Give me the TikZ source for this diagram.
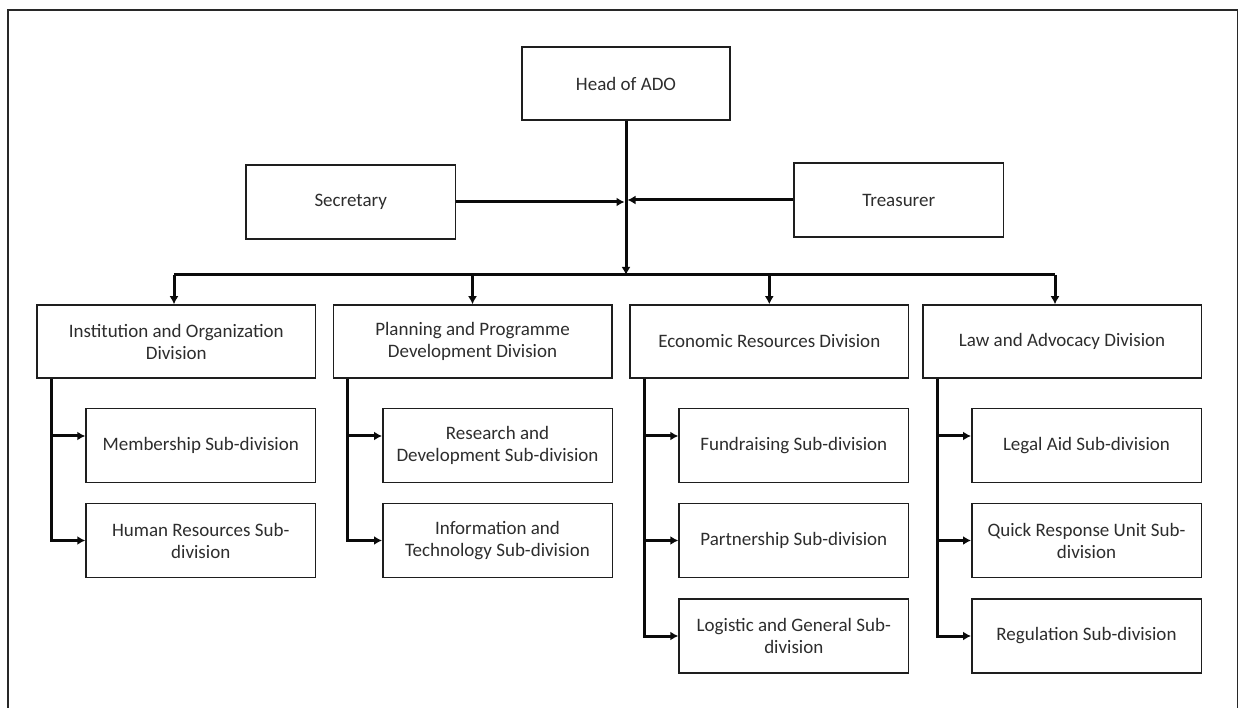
\documentclass[tikz,border=0pt]{standalone}
\usepackage{fontspec}
\setmainfont{Carlito}
\usetikzlibrary{arrows.meta,calc}
\definecolor{boxc}{RGB}{30,30,30}
\definecolor{txt}{RGB}{45,45,45}
\definecolor{linec}{RGB}{10,10,10}
\definecolor{framec}{RGB}{40,40,40}
\begin{document}
\begin{tikzpicture}[x=1pt,y=-1pt,
  box/.style={draw=boxc, line width=1.5pt, minimum height=74pt, align=center, text=txt,
    font=\fontsize{19}{22}\selectfont, inner sep=0pt},
  divbox/.style={box, minimum width=278.5pt},
  subbox/.style={box, minimum width=229.5pt},
  topbox/.style={box, minimum width=208pt},
  conn/.style={line width=3pt, draw=linec},
  arr/.style={conn, -{Latex[length=8pt,width=9pt]}}]
\useasboundingbox (0,0) rectangle (1240,708);
% frame
\draw[framec, line width=1.5pt] (8,708) -- (8,10) -- (1237.5,10) -- (1237.5,708);

% top
\node[topbox, minimum height=73pt] (head) at (626,83.5) {Head of ADO};
\node[topbox, minimum width=209.5pt] (sec) at (350.75,202) {Secretary};
\node[topbox, minimum width=209.5pt] (tre) at (898.75,200) {Treasurer};

% divisions
\node[divbox, minimum height=73pt] (d1) at (176.25,341.5) {Institution and Organization\\Division};
\node[divbox, minimum height=73pt] (d2) at (472.5,341.5) {Planning and Programme\\Development Division};
\node[divbox, minimum height=73pt] (d3) at (769.3,341.5) {Economic Resources Division};
\node[divbox, minimum height=73pt] (d4) at (1062,341.5) {Law and Advocacy Division};

% sub-divisions
\node[subbox] (s11) at (200.75,445.5) {Membership Sub-division};
\node[subbox] (s12) at (200.75,540.5) {Human Resources Sub-\\division};
\node[subbox] (s21) at (497.5,445.5) {Research and\\Development Sub-division};
\node[subbox] (s22) at (497.5,540.5) {Information and\\Technology Sub-division};
\node[subbox] (s31) at (793.8,445.5) {Fundraising Sub-division};
\node[subbox] (s32) at (793.8,540.5) {Partnership Sub-division};
\node[subbox] (s33) at (793.8,636) {Logistic and General Sub-\\division};
\node[subbox] (s41) at (1086.5,445.5) {Legal Aid Sub-division};
\node[subbox] (s42) at (1086.5,540.5) {Quick Response Unit Sub-\\division};
\node[subbox] (s43) at (1086.5,636) {Regulation Sub-division};

% bus
\coordinate (busL) at (174,275);
\coordinate (busR) at (1055,275);

% connectors
\draw[arr] (head.south) -- (head.south |- busL);
\draw[arr, shorten >=1.5pt] (sec.east) -- (sec.east -| head.south);
\draw[arr, shorten >=1.5pt] (tre.west) -- (tre.west -| head.south);
\draw[conn] (busL) -- (busR);
\draw[arr] (busL) -- (busL |- d1.north);
\draw[arr] (d2.north |- busL) -- (d2.north);
\draw[arr] (d3.north |- busL) -- (d3.north);
\draw[arr] (busR) -- (busR |- d4.north);

\draw[arr] ([xshift=15pt]d1.south west) |- ([yshift=9.5pt]s11.west);
\draw[arr] ([xshift=15pt]d1.south west) |- (s12.west);
\draw[arr] ([xshift=15pt]d2.south west) |- ([yshift=9.5pt]s21.west);
\draw[arr] ([xshift=15pt]d2.south west) |- (s22.west);
\draw[arr] ([xshift=15pt]d3.south west) |- ([yshift=9.5pt]s31.west);
\draw[arr] ([xshift=15pt]d3.south west) |- (s32.west);
\draw[arr] ([xshift=15pt]d3.south west) |- (s33.west);
\draw[arr] ([xshift=15pt]d4.south west) |- ([yshift=9.5pt]s41.west);
\draw[arr] ([xshift=15pt]d4.south west) |- (s42.west);
\draw[arr] ([xshift=15pt]d4.south west) |- (s43.west);
\end{tikzpicture}
\end{document}
